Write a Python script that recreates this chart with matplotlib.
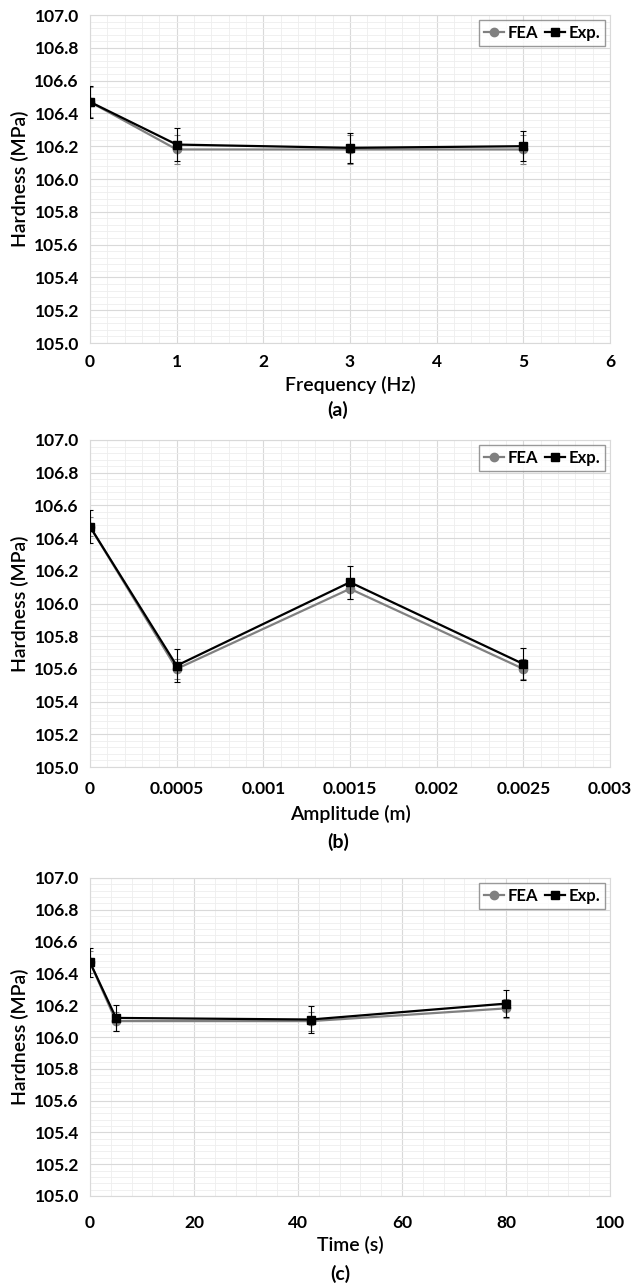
import matplotlib.pyplot as plt
from matplotlib.lines import Line2D
from matplotlib.ticker import MultipleLocator, FuncFormatter

plt.rcParams['font.family'] = ['Lato', 'DejaVu Sans']

# (a) frequency
freq = [0, 1, 3, 5]
fea_freq = [106.47, 106.18, 106.18, 106.18]
exp_freq = [106.47, 106.21, 106.19, 106.20]
fea_freq_err = [0.09, 0.09, 0.09, 0.09]
exp_freq_err = [0.10, 0.10, 0.09, 0.09]

# (b) amplitude
amp = [0, 0.0005, 0.0015, 0.0025]
fea_amp = [106.47, 105.60, 106.09, 105.60]
exp_amp = [106.47, 105.62, 106.13, 105.63]
fea_amp_err = [0.06, 0.06, 0.06, 0.06]
exp_amp_err = [0.10, 0.10, 0.10, 0.10]

# (c) time
time_s = [0, 5, 42.5, 80]
fea_time = [106.47, 106.10, 106.10, 106.18]
exp_time = [106.47, 106.12, 106.11, 106.21]
fea_time_err = [0.07, 0.06, 0.06, 0.06]
exp_time_err = [0.09, 0.08, 0.085, 0.085]

panels = [
    (freq, fea_freq, exp_freq, fea_freq_err, exp_freq_err, 'Frequency (Hz)', '(a)', (0, 6), 1, 0.2),
    (amp, fea_amp, exp_amp, fea_amp_err, exp_amp_err, 'Amplitude (m)', '(b)', (0, 0.003), 0.0005, 0.0001),
    (time_s, fea_time, exp_time, fea_time_err, exp_time_err, 'Time (s)', '(c)', (0, 100), 20, 4),
]

W, H = 633, 1284
fig = plt.figure(figsize=(W / 100, H / 100), dpi=100)
# axes boxes in pixels: left, top, right, bottom
px_boxes = [(90, 15, 610, 343), (90, 440, 610, 767), (90, 878, 610, 1196)]
tag_pos = [(338, 410), (338, 842), (340, 1274)]
xpads = [(8, 4), (10, 6), (14, 3)]


def fmt_x(v, pos):
    return ('%.4f' % v).rstrip('0').rstrip('.')


for (x, fea, exp, fe, ee, xlabel, tag, xlim, xmaj, xmin), (l, t, r, b), (tx, ty), (tp, lp) in zip(
        panels, px_boxes, tag_pos, xpads):
    ax = fig.add_axes([l / W, 1 - b / H, (r - l) / W, (b - t) / H])
    ax.errorbar(x, fea, yerr=fe, color='#808080', marker='o', markersize=6, lw=1.6,
                elinewidth=0.8, capsize=2, capthick=0.8, zorder=3)
    ax.errorbar(x, exp, yerr=ee, color='black', marker='s', markersize=6, lw=1.6,
                elinewidth=0.8, capsize=2, capthick=0.8, zorder=4)
    ax.set_xlim(*xlim)
    ax.set_ylim(105.0, 107.0)
    ax.xaxis.set_major_locator(MultipleLocator(xmaj))
    ax.xaxis.set_minor_locator(MultipleLocator(xmin))
    ax.yaxis.set_major_locator(MultipleLocator(0.2))
    ax.yaxis.set_minor_locator(MultipleLocator(0.04))
    ax.xaxis.set_major_formatter(FuncFormatter(fmt_x))
    ax.yaxis.set_major_formatter(FuncFormatter(lambda v, p: '%.1f' % v))
    ax.grid(which='major', color='#d9d9d9', lw=0.8)
    ax.grid(which='minor', color='#eeeeee', lw=0.6)
    ax.set_axisbelow(True)
    for s in ax.spines.values():
        s.set_color('#d9d9d9')
    ax.tick_params(which='both', length=0, labelsize=12.5)
    ax.tick_params(axis='y', pad=8)
    ax.tick_params(axis='x', pad=tp)
    for lab in ax.get_xticklabels() + ax.get_yticklabels():
        lab.set_fontweight('bold')
    ax.set_ylabel('Hardness (MPa)', fontsize=14, fontweight='semibold')
    ax.set_xlabel(xlabel, fontsize=14, fontweight='semibold', labelpad=lp)
    fig.text(tx / W, 1 - ty / H, tag, ha='center', va='center',
             fontsize=14, fontweight='bold')
    handles = [Line2D([], [], color='#808080', marker='o', markersize=6, lw=1.6),
               Line2D([], [], color='black', marker='s', markersize=6, lw=1.6)]
    leg = ax.legend(handles, ['FEA', 'Exp.'], loc='upper right', ncol=2, frameon=True,
                    fancybox=False, handlelength=1.2, handletextpad=0.2, columnspacing=0.4,
                    borderpad=0.3, borderaxespad=0.3, prop={'weight': 'bold', 'size': 12})
    leg.get_frame().set_edgecolor('#808080')
    leg.get_frame().set_linewidth(1.0)

fig.savefig('out.png', dpi=100)
